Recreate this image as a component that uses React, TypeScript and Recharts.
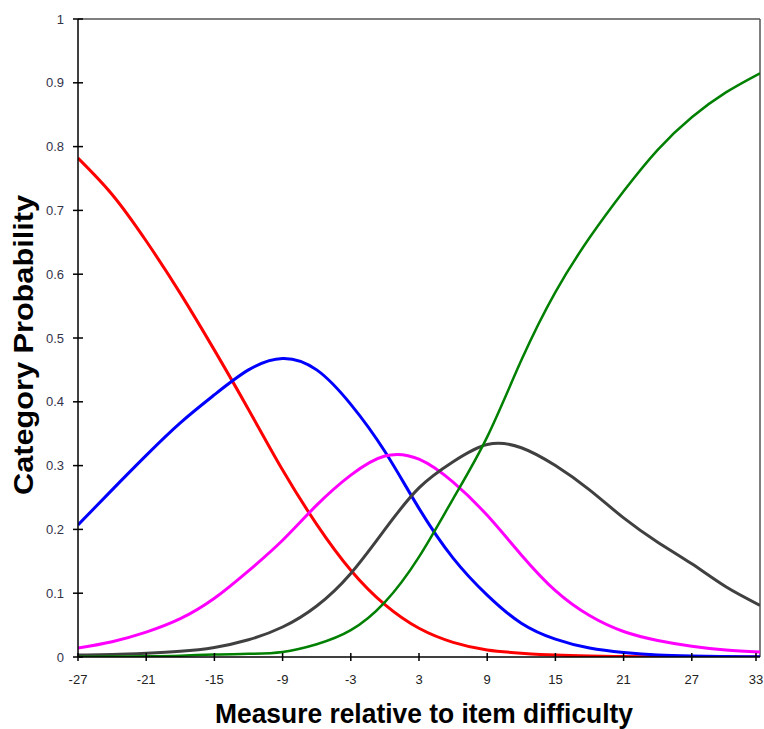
import React from "react";
import { Label, Line, LineChart, ReferenceLine, XAxis, YAxis } from "recharts";

const measures = [-27, -24, -21, -18, -15, -12, -9, -6, -3, 0, 3, 6, 9, 12, 15, 18, 21, 24, 27, 30, 33];

const cat1 = [0.782, 0.725, 0.652, 0.57, 0.481, 0.388, 0.293, 0.208, 0.136, 0.082, 0.045, 0.023, 0.011, 0.006, 0.003, 0.0015, 0.0007, 0.0003, 0.0002, 0.0001, 0];
const cat2 = [0.207, 0.262, 0.316, 0.367, 0.411, 0.45, 0.468, 0.45, 0.396, 0.322, 0.233, 0.155, 0.097, 0.053, 0.028, 0.014, 0.007, 0.003, 0.0015, 0.0007, 0.0003];
const cat3 = [0.014, 0.024, 0.039, 0.06, 0.092, 0.135, 0.183, 0.238, 0.285, 0.315, 0.31, 0.274, 0.222, 0.16, 0.104, 0.065, 0.04, 0.026, 0.017, 0.011, 0.008];
const cat4 = [0.003, 0.004, 0.006, 0.009, 0.015, 0.027, 0.047, 0.08, 0.131, 0.2, 0.265, 0.306, 0.333, 0.328, 0.3, 0.262, 0.218, 0.18, 0.146, 0.11, 0.081];
const cat5 = [0.0003, 0.0006, 0.001, 0.002, 0.004, 0.005, 0.008, 0.02, 0.042, 0.086, 0.157, 0.248, 0.345, 0.465, 0.572, 0.657, 0.73, 0.795, 0.846, 0.885, 0.915];

const xTicks = [-27, -21, -15, -9, -3, 3, 9, 15, 21, 27, 33];
const yTicks = [0, 0.1, 0.2, 0.3, 0.4, 0.5, 0.6, 0.7, 0.8, 0.9, 1];

const SERIES = [
  { key: "cat1", color: "#ff0000", width: 3 },
  { key: "cat2", color: "#0000ff", width: 3 },
  { key: "cat3", color: "#ff00ff", width: 3 },
  { key: "cat4", color: "#404040", width: 3 },
  { key: "cat5", color: "#008000", width: 2.5 },
];

const data = measures.map((m, i) => ({
  m,
  cat1: cat1[i],
  cat2: cat2[i],
  cat3: cat3[i],
  cat4: cat4[i],
  cat5: cat5[i],
}));

const FONT = "'Liberation Sans', Arial, sans-serif";

function YTick(props: any) {
  const { x, y, payload } = props;
  return (
    <g>
      <line x1={x - 5} x2={x + 5} y1={y} y2={y} stroke="#000" strokeWidth={1.5} />
      <text x={x - 14} y={y + 4.5} textAnchor="end" fontSize={13} fontFamily={FONT} fill="#33334a">
        {Number(payload.value.toFixed(1)).toString()}
      </text>
    </g>
  );
}

function XTick(props: any) {
  const { x, y, payload } = props;
  return (
    <g>
      <line x1={x} x2={x} y1={y - 4} y2={y + 4} stroke="#000" strokeWidth={1.5} />
      <text x={x} y={y + 27} textAnchor="middle" fontSize={13} fontFamily={FONT} fill="#222">
        {payload.value}
      </text>
    </g>
  );
}

export default function App() {
  return (
    <div style={{ position: "absolute", left: 0, top: 0, background: "#fff" }}>
      <LineChart width={764} height={729} data={data} margin={{ top: 19, right: 4, bottom: 0, left: 0 }}>
        <XAxis
          dataKey="m"
          type="number"
          domain={[-27, 33]}
          ticks={xTicks}
          height={72}
          tickSize={0}
          tickMargin={0}
          tick={<XTick />}
          axisLine={{ stroke: "#000", strokeWidth: 1.5 }}
          allowDataOverflow
        >
          <Label
            content={() => (
              <text
                x={424}
                y={723}
                textAnchor="middle"
                fontSize={28}
                fontWeight="bold"
                fontFamily={FONT}
                fill="#000"
                textLength={418}
                lengthAdjust="spacingAndGlyphs"
              >
                Measure relative to item difficulty
              </text>
            )}
          />
        </XAxis>
        <YAxis
          type="number"
          domain={[0, 1]}
          ticks={yTicks}
          width={78}
          tickSize={0}
          tickMargin={0}
          tick={<YTick />}
          axisLine={{ stroke: "#000", strokeWidth: 1.5 }}
          allowDataOverflow
        >
          <Label
            content={() => (
              <text
                x={33}
                y={345}
                transform="rotate(-90, 33, 345)"
                textAnchor="middle"
                fontSize={28}
                fontWeight="bold"
                fontFamily={FONT}
                fill="#000"
                textLength={300}
                lengthAdjust="spacingAndGlyphs"
              >
                Category Probability
              </text>
            )}
          />
        </YAxis>
        <ReferenceLine y={1} stroke="#555" strokeWidth={1.5} />
        <ReferenceLine x={33} stroke="#555" strokeWidth={1.5} />
        {SERIES.map((s) => (
          <Line
            key={s.key}
            dataKey={s.key}
            type="natural"
            stroke={s.color}
            strokeWidth={s.width}
            dot={false}
            activeDot={false}
            isAnimationActive={false}
          />
        ))}
      </LineChart>
    </div>
  );
}
